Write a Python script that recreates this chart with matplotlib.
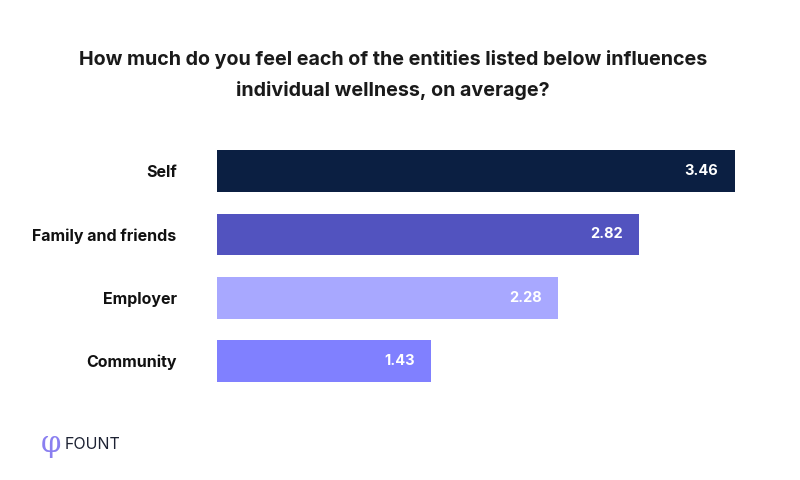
import matplotlib.pyplot as plt

categories = ["Self", "Family and friends", "Employer", "Community"]
values = [3.46, 2.82, 2.28, 1.43]
bar_colors = ["#0b1f42", "#5253bf", "#a8a8ff", "#8080ff"]
title = "How much do you feel each of the entities listed below influences\nindividual wellness, on average?"

plt.rcParams["font.family"] = ["Inter", "DejaVu Sans"]

fig = plt.figure(figsize=(8, 4.8), dpi=100)
ax = fig.add_axes([0.271, 0.204, 0.6475, 0.483])

y_pos = list(range(len(categories)))
ax.barh(y_pos, values, height=0.66, color=bar_colors)

for y, v in zip(y_pos, values):
    ax.text(v - 0.11, y, f"{v:.2f}", color="white", fontsize=10.5,
            fontweight="bold", ha="right", va="center")

ax.set_xlim(0, max(values))
ax.set_ylim(len(categories) - 0.67, -0.33)
ax.set_yticks(y_pos)
ax.set_yticklabels(categories, fontsize=11.5, fontweight="bold", color="#111111")
ax.tick_params(axis="y", length=0, pad=29)
ax.set_xticks([])
for side in ["top", "right", "bottom", "left"]:
    ax.spines[side].set_visible(False)

fig.text(0.491, 0.844, title, ha="center", va="center", fontsize=14.2,
         fontweight="bold", color="#1a1a1a", linespacing=1.75)

# logo
fig.text(0.051, 0.076, "φ", fontsize=21, color="#8a7ff0", ha="left", va="center",
         family=["DejaVu Serif"])
fig.text(0.081, 0.074, "FOUNT", fontsize=11.5, color="#1d2233", ha="left",
         va="center")

fig.savefig("out.png", dpi=100)
